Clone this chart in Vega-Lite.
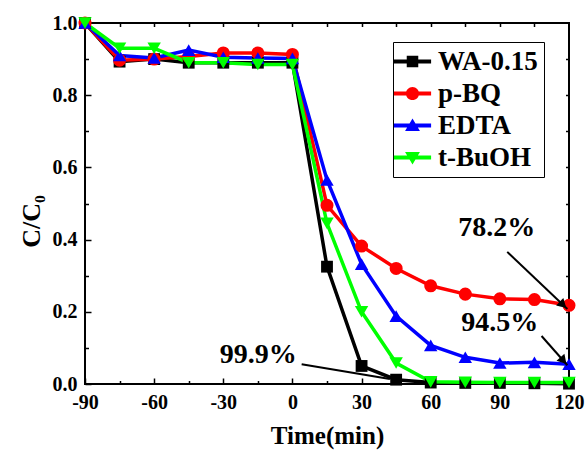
{
  "$schema": "https://vega.github.io/schema/vega-lite/v6.json",
  "width": 484,
  "height": 361,
  "autosize": {"type": "none"},
  "padding": {"left": 85, "top": 23, "right": 16, "bottom": 68},
  "config": {
    "font": "Liberation Serif",
    "view": {"stroke": "black", "strokeWidth": 2},
    "axis": {
      "grid": false,
      "domain": false,
      "tickColor": "black",
      "tickWidth": 1.5,
      "labelFlush": false,
      "labelOverlap": false,
      "labelFont": "Liberation Serif",
      "labelFontWeight": "bold",
      "labelFontSize": 20,
      "labelColor": "black",
      "titleFont": "Liberation Serif",
      "titleFontWeight": "bold",
      "titleFontSize": 26,
      "titleColor": "black"
    }
  },
  "data": {"values": [
      {"time": -90, "value": 1.0, "sample": "WA-0.15"},
      {"time": -75, "value": 0.893, "sample": "WA-0.15"},
      {"time": -60, "value": 0.9, "sample": "WA-0.15"},
      {"time": -45, "value": 0.89, "sample": "WA-0.15"},
      {"time": -30, "value": 0.89, "sample": "WA-0.15"},
      {"time": -15, "value": 0.89, "sample": "WA-0.15"},
      {"time": 0, "value": 0.89, "sample": "WA-0.15"},
      {"time": 15, "value": 0.325, "sample": "WA-0.15"},
      {"time": 30, "value": 0.05, "sample": "WA-0.15"},
      {"time": 45, "value": 0.012, "sample": "WA-0.15"},
      {"time": 60, "value": 0.004, "sample": "WA-0.15"},
      {"time": 75, "value": 0.003, "sample": "WA-0.15"},
      {"time": 90, "value": 0.003, "sample": "WA-0.15"},
      {"time": 105, "value": 0.002, "sample": "WA-0.15"},
      {"time": 120, "value": 0.001, "sample": "WA-0.15"},
      {"time": -90, "value": 1.0, "sample": "p-BQ"},
      {"time": -75, "value": 0.897, "sample": "p-BQ"},
      {"time": -60, "value": 0.9, "sample": "p-BQ"},
      {"time": -45, "value": 0.907, "sample": "p-BQ"},
      {"time": -30, "value": 0.917, "sample": "p-BQ"},
      {"time": -15, "value": 0.917, "sample": "p-BQ"},
      {"time": 0, "value": 0.913, "sample": "p-BQ"},
      {"time": 15, "value": 0.495, "sample": "p-BQ"},
      {"time": 30, "value": 0.382, "sample": "p-BQ"},
      {"time": 45, "value": 0.32, "sample": "p-BQ"},
      {"time": 60, "value": 0.272, "sample": "p-BQ"},
      {"time": 75, "value": 0.249, "sample": "p-BQ"},
      {"time": 90, "value": 0.236, "sample": "p-BQ"},
      {"time": 105, "value": 0.234, "sample": "p-BQ"},
      {"time": 120, "value": 0.218, "sample": "p-BQ"},
      {"time": -90, "value": 1.0, "sample": "EDTA"},
      {"time": -75, "value": 0.91, "sample": "EDTA"},
      {"time": -60, "value": 0.903, "sample": "EDTA"},
      {"time": -45, "value": 0.925, "sample": "EDTA"},
      {"time": -30, "value": 0.905, "sample": "EDTA"},
      {"time": -15, "value": 0.903, "sample": "EDTA"},
      {"time": 0, "value": 0.902, "sample": "EDTA"},
      {"time": 15, "value": 0.565, "sample": "EDTA"},
      {"time": 30, "value": 0.332, "sample": "EDTA"},
      {"time": 45, "value": 0.188, "sample": "EDTA"},
      {"time": 60, "value": 0.107, "sample": "EDTA"},
      {"time": 75, "value": 0.074, "sample": "EDTA"},
      {"time": 90, "value": 0.058, "sample": "EDTA"},
      {"time": 105, "value": 0.06, "sample": "EDTA"},
      {"time": 120, "value": 0.055, "sample": "EDTA"},
      {"time": -90, "value": 1.0, "sample": "t-BuOH"},
      {"time": -75, "value": 0.93, "sample": "t-BuOH"},
      {"time": -60, "value": 0.93, "sample": "t-BuOH"},
      {"time": -45, "value": 0.89, "sample": "t-BuOH"},
      {"time": -30, "value": 0.89, "sample": "t-BuOH"},
      {"time": -15, "value": 0.885, "sample": "t-BuOH"},
      {"time": 0, "value": 0.885, "sample": "t-BuOH"},
      {"time": 15, "value": 0.445, "sample": "t-BuOH"},
      {"time": 30, "value": 0.2, "sample": "t-BuOH"},
      {"time": 45, "value": 0.058, "sample": "t-BuOH"},
      {"time": 60, "value": 0.006, "sample": "t-BuOH"},
      {"time": 75, "value": 0.005, "sample": "t-BuOH"},
      {"time": 90, "value": 0.004, "sample": "t-BuOH"},
      {"time": 105, "value": 0.004, "sample": "t-BuOH"},
      {"time": 120, "value": 0.004, "sample": "t-BuOH"}
  ]},
  "resolve": {"axis": {"x": "independent", "y": "independent"}},
  "layer": [
    {
      "mark": {"type": "line", "strokeWidth": 3.5},
      "encoding": {
        "x": {"field": "time", "type": "quantitative",
              "scale": {"domain": [-90, 120], "nice": false, "zero": false},
              "axis": {"orient": "bottom", "values": [-90, -60, -30, 0, 30, 60, 90, 120], "ticks": false, "labelPadding": 8,
                       "labelExpr": "datum.value < 0 ? '-' + abs(datum.value) : '' + datum.value",
                       "title": "Time(min)", "titlePadding": 11, "titleFontSize": 25}},
        "y": {"field": "value", "type": "quantitative",
              "scale": {"domain": [0, 1], "nice": false},
              "axis": {"orient": "left", "values": [0, 0.2, 0.4, 0.6, 0.8, 1.0], "format": ".1f", "ticks": false, "labelPadding": 8,
                       "title": "C/C₀", "titlePadding": 8, "titleY": 198}},
        "color": {"field": "sample", "type": "nominal",
                  "scale": {"domain": ["WA-0.15", "p-BQ", "EDTA", "t-BuOH"], "range": ["#000000", "#ff0000", "#0000ff", "#00ff00"]},
                  "legend": {
                    "title": null,
                    "orient": "none",
                    "legendX": 308,
                    "legendY": 19,
                    "padding": 6,
                    "strokeColor": "black",
                    "fillColor": "white",
                    "symbolSize": 576,
                    "labelFont": "Liberation Serif",
                    "labelFontWeight": "bold",
                    "labelFontSize": 27,
                    "labelColor": "black",
                    "labelOffset": 12,
                    "rowPadding": 4,
                    "encode": {
                      "symbols": {
                        "update": {
                          "shape": {"signal": "datum.value === 'WA-0.15' ? 'M-1.55,-0.16H1.55V0.16H-1.55Z M-0.48,-0.48H0.48V0.48H-0.48Z' : datum.value === 'p-BQ' ? 'M-1.55,-0.16H1.55V0.16H-1.55Z M0.55,0A0.55,0.55 0 1,1 -0.55,0A0.55,0.55 0 1,1 0.55,0Z' : datum.value === 'EDTA' ? 'M-1.55,-0.16H1.55V0.16H-1.55Z M0,-0.58L0.62,0.45L-0.62,0.45Z' : 'M-1.55,-0.16H1.55V0.16H-1.55Z M0,0.58L-0.62,-0.45L0.62,-0.45Z'"},
                          "fill": {"signal": "scale('color', datum.value)"},
                          "strokeWidth": {"value": 0}
                        }
                      }
                    }
                  }}
      }
    },
    {
      "transform": [{"filter": "datum.sample === 'WA-0.15'"}],
      "mark": {"type": "point", "shape": "square", "filled": true, "opacity": 1, "size": 140, "color": "#000000"},
      "encoding": {
        "x": {"field": "time", "type": "quantitative",
              "axis": {"orient": "bottom", "values": [-90, -60, -30, 0, 30, 60, 90, 120], "tickSize": -6, "labels": false, "title": null}},
        "y": {"field": "value", "type": "quantitative",
              "axis": {"orient": "left", "values": [0, 0.2, 0.4, 0.6, 0.8, 1.0], "tickSize": -6, "labels": false, "title": null}}
      }
    },
    {
      "transform": [{"filter": "datum.sample === 'p-BQ'"}],
      "mark": {"type": "point", "shape": "circle", "filled": true, "opacity": 1, "size": 170, "color": "#ff0000"},
      "encoding": {
        "x": {"field": "time", "type": "quantitative",
              "axis": {"orient": "bottom", "values": [-75, -45, -15, 15, 45, 75, 105], "tickSize": -3.5, "labels": false, "title": null}},
        "y": {"field": "value", "type": "quantitative",
              "axis": {"orient": "left", "values": [0.1, 0.3, 0.5, 0.7, 0.9], "tickSize": -3.5, "labels": false, "title": null}}
      }
    },
    {
      "transform": [{"filter": "datum.sample === 'EDTA'"}],
      "mark": {"type": "point", "shape": "triangle-up", "filled": true, "opacity": 1, "size": 180, "color": "#0000ff"},
      "encoding": {
        "x": {"field": "time", "type": "quantitative",
              "axis": {"orient": "top", "values": [-75, -60, -45, -30, -15, 0, 15, 30, 45, 60, 75, 90, 105], "tickSize": -3.5, "labels": false, "title": null}},
        "y": {"field": "value", "type": "quantitative",
              "axis": {"orient": "right", "values": [0.1, 0.2, 0.3, 0.4, 0.5, 0.6, 0.7, 0.8, 0.9], "tickSize": -3.5, "labels": false, "title": null}}
      }
    },
    {
      "transform": [{"filter": "datum.sample === 't-BuOH'"}],
      "mark": {"type": "point", "shape": "triangle-down", "filled": true, "opacity": 1, "size": 180, "color": "#00ff00"},
      "encoding": {
        "x": {"field": "time", "type": "quantitative", "axis": null},
        "y": {"field": "value", "type": "quantitative", "axis": null}
      }
    },
    {
      "data": {"values": [
        {"x": 88.6, "y": 0.431, "label": "78.2%"},
        {"x": 90, "y": 0.168, "label": "94.5%"},
        {"x": -14.8, "y": 0.08, "label": "99.9%"}
      ]},
      "mark": {"type": "text", "font": "Liberation Serif", "fontWeight": "bold", "fontSize": 28, "color": "black", "align": "center", "baseline": "middle"},
      "encoding": {
        "x": {"field": "x", "type": "quantitative", "axis": null},
        "y": {"field": "y", "type": "quantitative", "axis": null},
        "text": {"field": "label", "type": "nominal"}
      }
    },
    {
      "data": {"values": [
        {"x": 93.2, "y": 0.366, "x2": 119.3, "y2": 0.208},
        {"x": 108.1, "y": 0.133, "x2": 119.3, "y2": 0.052},
        {"x": 4.0, "y": 0.055, "x2": 42.3, "y2": 0.014}
      ]},
      "mark": {"type": "rule", "color": "black", "strokeWidth": 2},
      "encoding": {
        "x": {"field": "x", "type": "quantitative", "axis": null},
        "y": {"field": "y", "type": "quantitative", "axis": null},
        "x2": {"field": "x2"},
        "y2": {"field": "y2"}
      }
    },
    {
      "data": {"values": [{"x": 117.4, "y": 0.219}]},
      "mark": {"type": "point", "shape": "triangle-up", "filled": true, "color": "black", "opacity": 1, "size": 110, "angle": 133.5},
      "encoding": {
        "x": {"field": "x", "type": "quantitative", "axis": null},
        "y": {"field": "y", "type": "quantitative", "axis": null}
      }
    },
    {
      "data": {"values": [{"x": 117.6, "y": 0.0645}]},
      "mark": {"type": "point", "shape": "triangle-up", "filled": true, "color": "black", "opacity": 1, "size": 110, "angle": 138.6},
      "encoding": {
        "x": {"field": "x", "type": "quantitative", "axis": null},
        "y": {"field": "y", "type": "quantitative", "axis": null}
      }
    }
  ]
}
